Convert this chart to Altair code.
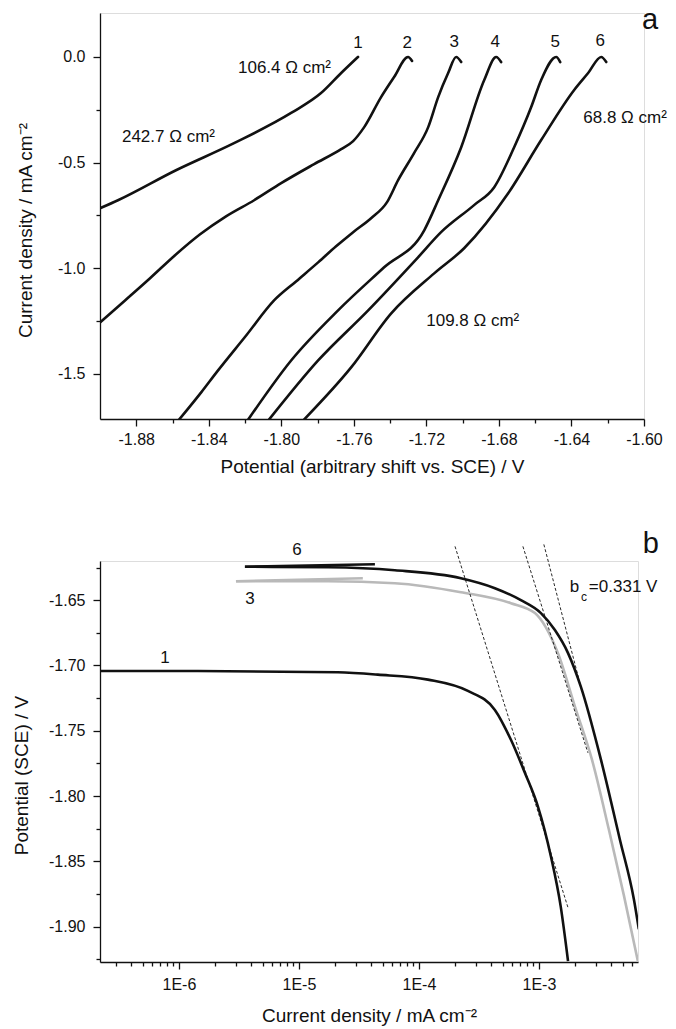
import altair as alt
import pandas as pd

FONT = "Liberation Sans"
INK = "#111111"
GRAY = "#b9b9b9"

# ---------------- Panel a : current density vs potential ----------------
a1_E = [-1.9000, -1.8901, -1.8581, -1.8261, -1.7946, -1.7781, -1.7670, -1.7577]
a1_I = [-0.716, -0.678, -0.536, -0.408, -0.265, -0.171, -0.076, 0.0]

a2_E = [-1.9000, -1.8862, -1.8724, -1.8586, -1.8448, -1.8305, -1.8150, -1.8001,
        -1.7819, -1.7670, -1.7604, -1.7543, -1.7450, -1.7378, -1.7301, -1.7279]
a2_I = [-1.256, -1.152, -1.047, -0.938, -0.839, -0.754, -0.678, -0.597,
        -0.507, -0.436, -0.398, -0.332, -0.190, -0.095, 0.0, -0.019]

a3_E = [-1.8564, -1.8443, -1.8349, -1.8194, -1.8040, -1.7919, -1.7797, -1.7698,
        -1.7604, -1.7505, -1.7417, -1.7356, -1.7268, -1.7190, -1.7135, -1.7080,
        -1.7036, -1.7008]
a3_I = [-1.716, -1.588, -1.483, -1.318, -1.152, -1.062, -0.972, -0.896,
        -0.829, -0.763, -0.687, -0.583, -0.455, -0.332, -0.190, -0.076,
        0.0, -0.024]

a4_E = [-1.8183, -1.7946, -1.7687, -1.7433, -1.7212, -1.7135, -1.7008, -1.6881, -1.6815, -1.6788]
a4_I = [-1.716, -1.436, -1.199, -0.995, -0.820, -0.678, -0.427, -0.109, 0.0, -0.024]

a5_E = [-1.8068, -1.7797, -1.7521, -1.7246, -1.7119, -1.6937, -1.6826, -1.6716,
        -1.6622, -1.6567, -1.6484, -1.6462]
a5_I = [-1.716, -1.436, -1.199, -0.948, -0.829, -0.701, -0.616, -0.427,
        -0.237, -0.109, 0.0, -0.024]

a6_E = [-1.7875, -1.7615, -1.7394, -1.7157, -1.6992, -1.6749, -1.6567, -1.6385,
        -1.6308, -1.6236, -1.6208]
a6_I = [-1.716, -1.469, -1.213, -1.024, -0.905, -0.645, -0.393, -0.156,
        -0.076, 0.0, -0.024]

a_num_text = ["1", "2", "3", "4", "5", "6"]
a_num_E = [-1.7577, -1.7306, -1.7047, -1.6821, -1.6490, -1.6241]
a_num_I = [0.043, 0.043, 0.047, 0.047, 0.046, 0.052]

a_res_text = ["106.4 \u03a9 cm\u00b2", "242.7 \u03a9 cm\u00b2", "68.8 \u03a9 cm\u00b2", "109.8 \u03a9 cm\u00b2"]
a_res_E = [-1.8239, -1.8879, -1.6335, -1.7201]
a_res_I = [-0.076, -0.403, -0.313, -1.275]

a_panel_E = [-1.5966]
a_panel_I = [0.133]

xa_ticks = [round(-1.88 + 0.02 * k, 2) for k in range(15)]
ya_ticks = [-1.5, -1.25, -1.0, -0.75, -0.5, -0.25, 0.0]

# ---------------- Panel b : Tafel plot ----------------
b1_i = [2.20e-7, 1.44e-6, 2.11e-5, 4.55e-5, 1.19e-4, 2.56e-4, 4.30e-4, 5.85e-4,
        7.64e-4, 9.82e-4, 1.26e-3, 1.52e-3, 1.75e-3]
b1_E = [-1.7042, -1.7042, -1.7052, -1.7070, -1.7108, -1.7195, -1.7340, -1.7569,
        -1.7821, -1.8080, -1.8462, -1.8844, -1.9263]

# curve 6: short return branch, then the main cathodic branch
b6r_i = [3.55e-6, 4.30e-5]
b6r_E = [-1.6244, -1.6225]
b6_i = [3.55e-6, 1.75e-5, 6.31e-5, 2.24e-4, 4.30e-4, 7.08e-4, 1.04e-3,
        1.36e-3, 1.75e-3, 2.24e-3, 3.29e-3, 4.73e-3, 6.19e-3, 6.81e-3]
b6_E = [-1.6244, -1.6248, -1.6271, -1.6332, -1.6408, -1.6500, -1.6599,
        -1.6729, -1.6905, -1.7164, -1.7721, -1.8332, -1.8790, -1.9019]

# curve 3 (grey): short return branch, then main branch
b3r_i = [2.99e-6, 3.41e-5]
b3r_E = [-1.6355, -1.6332]
b3_i = [2.99e-6, 1.75e-5, 6.31e-5, 2.24e-4, 5.85e-4, 9.27e-4, 1.14e-3,
        1.44e-3, 2.00e-3, 2.77e-3, 3.83e-3, 5.11e-3, 6.68e-3]
b3_E = [-1.6355, -1.6355, -1.6370, -1.6439, -1.6523, -1.6599, -1.6706,
        -1.6905, -1.7317, -1.7721, -1.8256, -1.8760, -1.9263]

tafel_i = [[2.0e-4, 1.745e-3], [7.36e-4, 2.56e-3], [1.10e-3, 2.24e-3]]
tafel_E = [[-1.6088, -1.8851], [-1.6088, -1.7668], [-1.6073, -1.7164]]

b_num_text = ["6", "3", "1"]
b_num_i = [9.62e-6, 3.91e-6, 7.64e-7]
b_num_E = [-1.6156, -1.6531, -1.6981]

b_panel_i = [8.58e-3]
b_panel_E = [-1.6141]

bc_main_i = [1.81e-3]
bc_sub_i = [2.24e-3]
bc_rest_i = [2.61e-3]
bc_E = [-1.6439]
bc_sub_E = [-1.6508]

yb_ticks = [round(-1.625 - 0.025 * k, 3) for k in range(13)]
xb_ticks = [m * 10.0 ** e for e in range(-7, -2) for m in range(1, 10)
            if 2.2e-7 <= m * 10.0 ** e <= 6.7e-3]

# ---------------- helpers ----------------
def curves_df(pairs):
    rows = []
    for name, xs, ys in pairs:
        for k, (x, y) in enumerate(zip(xs, ys)):
            rows.append({"curve": name, "x": x, "y": y, "i": k})
    return pd.DataFrame(rows)


def axis(values, label_expr, test, title, **kw):
    return alt.Axis(
        values=values, tickCount=500, labelExpr=label_expr,
        tickSize={"condition": {"test": test, "value": 7}, "value": 4},
        title=title, grid=False, labelFlush=False, labelOverlap=False,
        domainColor=INK, tickColor=INK, labelColor=INK, titleColor=INK,
        domainWidth=1.3, tickWidth=1.3, labelFont=FONT, titleFont=FONT,
        labelFontSize=16, titleFontSize=19, titleFontWeight="normal",
        titleBaseline="middle", **kw)


def fmt(spec):
    return f"replace(format(datum.value, '{spec}'), '\u2212', '-')"


def text_layer(xs, ys, texts, xenc, yenc, size, align="center", baseline="alphabetic"):
    df = pd.DataFrame({"x": xs, "y": ys, "t": texts})
    return alt.Chart(df).mark_text(
        font=FONT, fontSize=size, color=INK, align=align, baseline=baseline
    ).encode(x=xenc, y=yenc, text="t:N")


# ---------------- Panel a chart ----------------
xa_test = "abs(round(datum.value*100)) % 4 == 0"
ya_test = "abs(round(datum.value*4)) % 2 == 0"
xa_scale = alt.Scale(domain=[-1.90, -1.60], nice=False, zero=False)
ya_scale = alt.Scale(domain=[-1.713, 0.208], nice=False, zero=False)
xa = alt.X("x:Q", scale=xa_scale,
           axis=axis(xa_ticks, f"{xa_test} ? {fmt('.2f')} : ''", xa_test,
                     "Potential (arbitrary shift vs. SCE) / V", labelPadding=5, titleY=47))
ya = alt.Y("y:Q", scale=ya_scale,
           axis=axis(ya_ticks, f"{ya_test} ? {fmt('.1f')} : ''", ya_test,
                     "Current density / mA cm\u207b\u00b2", labelPadding=8,
                     titleX=-75, titleY=217))
xa_plain = alt.X("x:Q", scale=xa_scale)
ya_plain = alt.Y("y:Q", scale=ya_scale)

a_df = curves_df([("1", a1_E, a1_I), ("2", a2_E, a2_I), ("3", a3_E, a3_I),
                  ("4", a4_E, a4_I), ("5", a5_E, a5_I), ("6", a6_E, a6_I)])
a_lines = alt.Chart(a_df).mark_line(color=INK, strokeWidth=2.6, clip=True,
                                    interpolate="monotone",
                                    strokeJoin="round", strokeCap="round").encode(
    x=xa, y=ya, detail="curve:N", order="i:Q")

top = alt.layer(
    a_lines,
    text_layer(a_num_E, a_num_I, a_num_text, xa_plain, ya_plain, 17),
    text_layer(a_res_E, a_res_I, a_res_text, xa_plain, ya_plain, 17, align="left"),
    text_layer(a_panel_E, a_panel_I, ["a"], xa_plain, ya_plain, 29),
).properties(width=544, height=406)

# ---------------- Panel b chart ----------------
xb_test = "abs(log(datum.value)/LN10 - round(log(datum.value)/LN10)) < 0.01"
yb_test = "abs(round(datum.value*40)) % 2 == 0"
xb_scale = alt.Scale(type="log", domain=[2.2e-7, 6.7e-3], nice=False)
yb_scale = alt.Scale(domain=[-1.927, -1.620], nice=False, zero=False)
xb = alt.X("x:Q", scale=xb_scale,
           axis=axis(xb_ticks,
                     f"{xb_test} ? '1E' + replace('' + round(log(datum.value)/LN10), '\u2212', '-') : ''",
                     xb_test, "Current density / mA cm\u207b\u00b2", labelPadding=7, titleY=53))
yb = alt.Y("y:Q", scale=yb_scale,
           axis=axis(yb_ticks, f"{yb_test} ? {fmt('.2f')} : ''", yb_test,
                     "Potential (SCE) / V", labelPadding=8, titleX=-79, titleY=214))
xb_plain = alt.X("x:Q", scale=xb_scale)
yb_plain = alt.Y("y:Q", scale=yb_scale)

tafel_rows = []
for k, (xs, ys) in enumerate(zip(tafel_i, tafel_E)):
    for j in range(2):
        tafel_rows.append({"line": k, "x": xs[j], "y": ys[j], "i": j})
tafel_df = pd.DataFrame(tafel_rows)

b_black = curves_df([("1", b1_i, b1_E), ("6", b6_i, b6_E), ("6r", b6r_i, b6r_E)])
b_gray = curves_df([("3", b3_i, b3_E), ("3r", b3r_i, b3r_E)])

b_gray_line = alt.Chart(b_gray).mark_line(color=GRAY, strokeWidth=2.6, clip=True,
                                          interpolate="monotone",
                                          strokeJoin="round").encode(
    x=xb, y=yb, detail="curve:N", order="i:Q")
b_black_line = alt.Chart(b_black).mark_line(color=INK, strokeWidth=2.6, clip=True,
                                            interpolate="monotone",
                                            strokeJoin="round").encode(
    x=xb_plain, y=yb_plain, detail="curve:N", order="i:Q")
b_tafel = alt.Chart(tafel_df).mark_line(color=INK, strokeWidth=0.9, strokeDash=[3, 2]).encode(
    x=xb_plain, y=yb_plain, detail="line:N", order="i:Q")

bottom = alt.layer(
    b_gray_line,
    b_black_line,
    b_tafel,
    text_layer(b_num_i, b_num_E, b_num_text, xb_plain, yb_plain, 17),
    text_layer(b_panel_i, b_panel_E, ["b"], xb_plain, yb_plain, 29),
    text_layer(bc_main_i, bc_E, ["b"], xb_plain, yb_plain, 17, align="left"),
    text_layer(bc_sub_i, bc_sub_E, ["c"], xb_plain, yb_plain, 12, align="left"),
    text_layer(bc_rest_i, bc_E, ["=0.331 V"], xb_plain, yb_plain, 17, align="left"),
).properties(width=538, height=401)

chart = alt.vconcat(top, bottom, spacing=142, bounds="flush").properties(
    padding={"left": 11, "top": 5, "right": 0, "bottom": 0}
).configure_view(stroke=None).configure(background="white")

chart.save("out.html", embed_options={"renderer": "svg", "actions": False})
